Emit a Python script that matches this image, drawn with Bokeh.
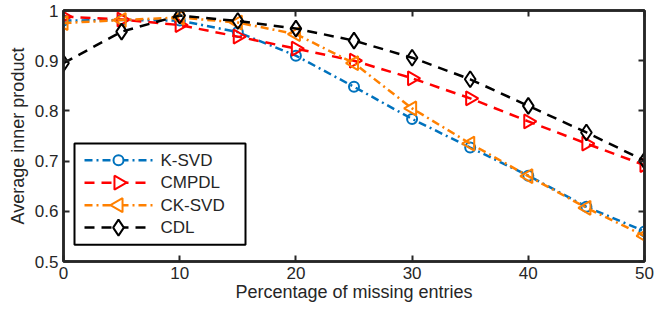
import math
from bokeh.plotting import figure
from bokeh.models import LinearAxis, FixedTicker, Range1d
from bokeh.core.properties import value
from bokeh.embed import file_html
from bokeh.resources import INLINE

x = [0, 5, 10, 15, 20, 25, 30, 35, 40, 45, 50]
ksvd = [0.980, 0.981, 0.980, 0.957, 0.910, 0.848, 0.784, 0.727, 0.671, 0.609, 0.560]
cmpdl = [0.988, 0.982, 0.971, 0.948, 0.924, 0.900, 0.865, 0.825, 0.779, 0.735, 0.692]
cksvd = [0.975, 0.981, 0.986, 0.976, 0.953, 0.895, 0.805, 0.735, 0.670, 0.607, 0.551]
cdl = [0.895, 0.958, 0.990, 0.979, 0.964, 0.940, 0.906, 0.863, 0.810, 0.757, 0.701]

series_labels = ["K-SVD", "CMPDL", "CK-SVD", "CDL"]
x_ticks = [0, 10, 20, 30, 40, 50]
y_ticks = [0.5, 0.6, 0.7, 0.8, 0.9, 1.0]
x_label = "Percentage of missing entries"
y_label = "Average inner product"

TXT = "#262626"
FONT = "Liberation Sans"
W, H = 654, 304
BL, BR, BT, BB = 63, 10, 10, 41
FW, FH = W - BL - BR, H - BT - BB

p = figure(width=W, height=H, output_backend="svg", toolbar_location=None,
           x_range=Range1d(0, 50), y_range=Range1d(0.5, 1.0),
           min_border_left=BL, min_border_right=BR, min_border_top=BT, min_border_bottom=BB)
p.extra_x_ranges = {"px": Range1d(0, FW)}
p.extra_y_ranges = {"py": Range1d(0, FH)}
p.xgrid.visible = False
p.ygrid.visible = False
p.outline_line_color = TXT
p.outline_line_width = 2.5
p.background_fill_color = "white"

def style_axis(ax, labels=True):
    ax.axis_line_color = TXT
    ax.axis_line_width = 2.5
    ax.major_tick_line_color = TXT
    ax.major_tick_line_width = 2
    ax.major_tick_in = 6
    ax.major_tick_out = 0
    ax.minor_tick_line_color = None
    ax.major_label_text_font = FONT
    ax.major_label_text_color = TXT if labels else None
    ax.major_label_text_font_size = "17px" if labels else "0px"
    ax.axis_label_text_font = FONT
    ax.axis_label_text_font_size = "18px"
    ax.axis_label_text_font_style = "normal"
    ax.axis_label_text_color = TXT

p.xaxis.ticker = FixedTicker(ticks=x_ticks)
p.yaxis.ticker = FixedTicker(ticks=y_ticks)
p.yaxis.major_label_overrides = {1: "1"}
p.xaxis.axis_label = x_label
p.yaxis.axis_label = y_label
style_axis(p.xaxis[0])
style_axis(p.yaxis[0])
p.xaxis.major_label_standoff = 5
p.xaxis.axis_label_standoff = 0
p.yaxis.major_label_standoff = 5
p.yaxis.axis_label_standoff = 4

top = LinearAxis(ticker=FixedTicker(ticks=x_ticks))
right = LinearAxis(ticker=FixedTicker(ticks=y_ticks))
style_axis(top, labels=False)
style_axis(right, labels=False)
for ax in (top, right):
    ax.major_label_standoff = 0
    ax.axis_label_standoff = 0
p.add_layout(top, "above")
p.add_layout(right, "right")

BLUE = "#0072BD"
RED = "#FF0000"
ORANGE = "#FF8000"
BLACK = "#000000"
DASH = "10 7"
DASHDOT = "8 4 2 4"

styles = [
    dict(color=BLUE, dash=DASHDOT, marker="circle", angle=0.0, size=10),
    dict(color=RED, dash=DASH, marker="triangle", angle=-math.pi / 2, size=14),
    dict(color=ORANGE, dash=DASHDOT, marker="triangle", angle=math.pi / 2, size=14),
    dict(color=BLACK, dash=DASH, marker="diamond", angle=0.0, size=16),
]

for ys, st in zip([ksvd, cmpdl, cksvd, cdl], styles):
    p.line(x, ys, line_color=st["color"], line_width=2.5, line_dash=st["dash"])
    p.scatter(x, ys, marker=st["marker"], angle=st["angle"], size=st["size"],
              fill_color=None, line_color=st["color"], line_width=2)

# legend box, drawn in frame pixel units
p.quad(left=11, right=182, bottom=17, top=119, fill_color="white", line_color=BLACK,
       line_width=2, x_range_name="px", y_range_name="py")
row_y = [102, 79.4, 56.8, 34.2]
for lab, st, ry in zip(series_labels, styles, row_y):
    p.line([21, 89], [ry, ry], line_color=st["color"], line_width=2.5, line_dash=st["dash"],
           x_range_name="px", y_range_name="py")
    p.scatter([55], [ry], marker=st["marker"], angle=st["angle"], size=st["size"],
              fill_color="white", line_color=st["color"], line_width=2,
              x_range_name="px", y_range_name="py")
    p.text([97], [ry], text=[lab], text_font=value(FONT), text_font_size="17px",
           text_color=TXT, text_baseline="middle", x_range_name="px", y_range_name="py")

open("out.html", "w").write(file_html(p, INLINE))
